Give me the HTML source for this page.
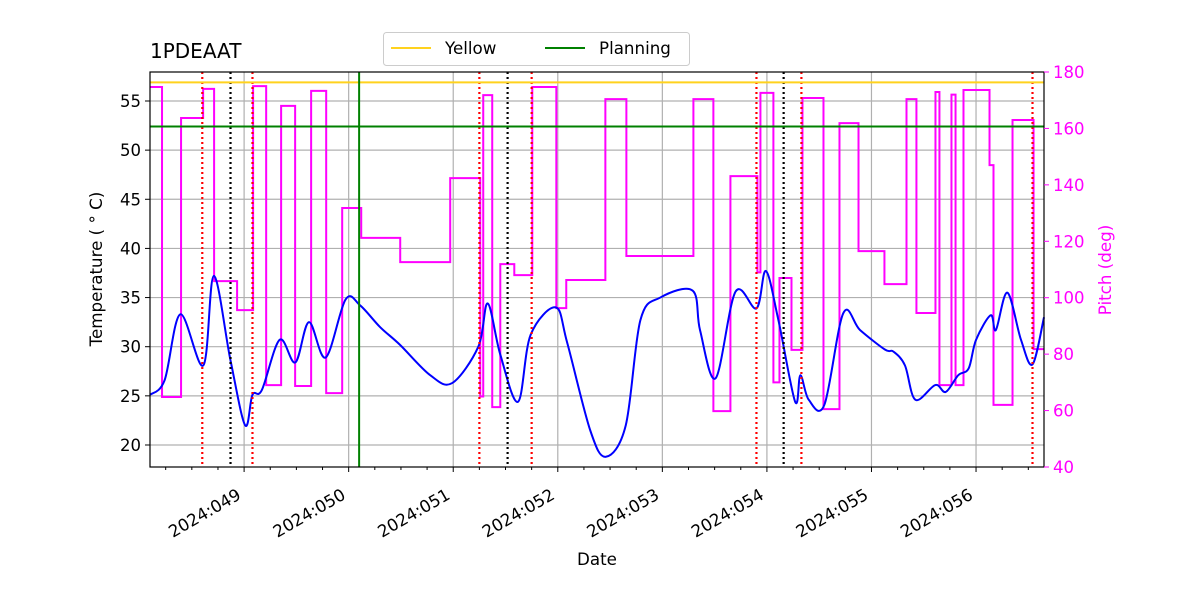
<!DOCTYPE html>
<html><head><meta charset="utf-8"><style>
body{margin:0;background:#fff;font-family:"DejaVu Sans","Liberation Sans",sans-serif}
svg text{font-family:"DejaVu Sans","Liberation Sans",sans-serif}
</style></head><body>
<svg id="c" width="1200" height="600" viewBox="0 0 1200 600" style="position:absolute;left:0;top:0"></svg>
<script>
const dayTicks=[49,50,51,52,53,54,55,56];
const tempTicks=[20,25,30,35,40,45,50,55];
const pitchTicks=[40,60,80,100,120,140,160,180];
const tempDays=[48.10,48.24,48.39,48.61,48.71,48.87,49.01,49.08,49.17,49.34,49.49,49.62,49.78,49.97,50.11,50.30,50.49,50.78,50.99,51.24,51.33,51.45,51.62,51.74,51.98,52.09,52.31,52.46,52.65,52.79,52.98,53.29,53.36,53.51,53.70,53.90,53.99,54.11,54.27,54.32,54.40,54.55,54.73,54.89,55.13,55.21,55.32,55.42,55.61,55.71,55.83,55.93,56.00,56.14,56.19,56.30,56.43,56.54,56.65];
const tempVals=[25.1,26.6,33.3,28.1,37.2,28.6,22.0,25.1,25.6,30.7,28.4,32.5,28.9,34.8,34.2,32.0,30.2,27.1,26.3,30.0,34.4,29.2,24.4,31.2,34.0,30.4,21.5,18.8,22.0,32.7,35.0,35.7,31.7,26.8,35.6,33.9,37.7,32.7,24.4,27.1,24.6,24.1,33.4,31.7,29.7,29.5,28.1,24.6,26.1,25.4,27.1,27.8,30.7,33.2,31.7,35.5,30.7,28.2,33.0];
const pitchDays=[48.10,48.215,48.397,48.608,48.713,48.933,49.086,49.211,49.354,49.488,49.641,49.785,49.938,50.12,50.493,50.971,51.258,51.287,51.373,51.45,51.584,51.756,51.986,52.081,52.455,52.656,53.297,53.488,53.651,53.909,53.938,54.062,54.12,54.235,54.34,54.541,54.694,54.876,55.124,55.335,55.43,55.612,55.65,55.765,55.804,55.88,56.129,56.167,56.349,56.55];
const pitchVals=[174.7,64.8,163.7,174,105.9,95.6,175,69,168,68.7,173.3,66.2,131.8,121.2,112.6,142.4,65,171.8,61.2,111.9,108,174.7,96.3,106.3,170.4,114.8,170.4,59.8,143.1,109,172.6,70,107,81.5,170.8,60.5,161.9,116.5,104.8,170.4,94.6,172.9,69,172,69,173.6,147,62,163,81.8];
const yellowLimit=56.9, planningLimit=52.4, planningDay=50.1;
const redDays=[48.60,49.08,51.25,51.75,53.90,54.33,56.54];
const blackDays=[48.87,51.52,54.16];
const X0=150,X1=1044,Y0=72,Y1=467,DMIN=48.10,DMAX=56.65,TMIN=17.76,TMAX=57.95,PMIN=40,PMAX=180;
const xs=d=>X0+(d-DMIN)/(DMAX-DMIN)*(X1-X0);
const yt=t=>Y1-(t-TMIN)/(TMAX-TMIN)*(Y1-Y0);
const yp=p=>Y1-(p-PMIN)/(PMAX-PMIN)*(Y1-Y0);
const svg=document.getElementById('c');const NS='http://www.w3.org/2000/svg';
function el(t,a,txt){const e=document.createElementNS(NS,t);for(const k in a)e.setAttribute(k,a[k]);if(txt!==undefined)e.textContent=txt;svg.appendChild(e);return e;}
tempTicks.forEach(t=>{const e=el('line',{x1:X0,x2:X1,y1:yt(t),y2:yt(t),stroke:'#b0b0b0','stroke-width':1.2});

});
dayTicks.forEach(d=>{const e=el('line',{x1:xs(d),x2:xs(d),y1:Y0,y2:Y1,stroke:'#b0b0b0','stroke-width':1.2});

});
let pd='';pitchDays.forEach((d,i)=>{const x=xs(d),y=yp(pitchVals[i]);pd+=(i?`L${x},${yp(pitchVals[i-1])}L${x},${y}`:`M${x},${y}`);});
pd+=`L${X1},${yp(pitchVals[pitchVals.length-1])}`;
const pl=el('path',{d:pd,fill:'none',stroke:'#ff00ff','stroke-width':2});


const P=tempDays.map((d,i)=>[xs(d),yt(tempVals[i])]);
let td=`M${P[0][0]},${P[0][1]}`;
for(let i=0;i<P.length-1;i++){const p0=P[Math.max(i-1,0)],p1=P[i],p2=P[i+1],p3=P[Math.min(i+2,P.length-1)];
const c1=[p1[0]+(p2[0]-p0[0])/6,p1[1]+(p2[1]-p0[1])/6],c2=[p2[0]-(p3[0]-p1[0])/6,p2[1]-(p3[1]-p1[1])/6];
td+=`C${c1[0]},${c1[1]} ${c2[0]},${c2[1]} ${p2[0]},${p2[1]}`;}
const tl=el('path',{d:td,fill:'none',stroke:'#0000ff','stroke-width':2,'stroke-linejoin':'round'});


redDays.forEach(d=>{const e=el('line',{x1:xs(d),x2:xs(d),y1:Y0,y2:Y1,stroke:'#ff0000','stroke-width':2.2,'stroke-dasharray':'2,3'});

});
blackDays.forEach(d=>{const e=el('line',{x1:xs(d),x2:xs(d),y1:Y0,y2:Y1,stroke:'#000','stroke-width':2.2,'stroke-dasharray':'2,3'});

});
const yl=el('line',{x1:X0,x2:X1,y1:yt(yellowLimit),y2:yt(yellowLimit),stroke:'#ffd21e','stroke-width':2});


const gl=el('line',{x1:X0,x2:X1,y1:yt(planningLimit),y2:yt(planningLimit),stroke:'#008000','stroke-width':2});


const gv=el('line',{x1:xs(planningDay),x2:xs(planningDay),y1:Y0,y2:Y1,stroke:'#008000','stroke-width':2});


const fr=el('rect',{x:X0,y:Y0,width:X1-X0,height:Y1-Y0,fill:'none',stroke:'#000','stroke-width':1.2});


tempTicks.forEach(t=>{el('line',{x1:X0-5,x2:X0,y1:yt(t),y2:yt(t),stroke:'#000'});
const e=el('text',{x:X0-9,y:yt(t)+6,'text-anchor':'end','font-size':16.5},String(t));

});
pitchTicks.forEach(p=>{el('line',{x1:X1,x2:X1+5,y1:yp(p),y2:yp(p),stroke:'#ff00ff'});
const e=el('text',{x:X1+9,y:yp(p)+6,'font-size':16.5,fill:'#ff00ff'},String(p));

});
for(let d=48.25;d<DMAX;d+=0.25){if(d<DMIN)continue;const maj=Math.abs(d-Math.round(d))<1e-6;el('line',{x1:xs(d),x2:xs(d),y1:Y1,y2:Y1+(maj?5:3),stroke:'#000'});}
dayTicks.forEach(d=>{const x=xs(d)-2,y=Y1+31;const e=el('text',{x:x,y:y,'text-anchor':'end','font-size':16.7,transform:`rotate(-30 ${x} ${y})`},'2024:0'+d);

});
</script>
<svg width="1200" height="600" style="position:absolute;left:0;top:0">
<text x="150" y="58" font-size="20">1PDEAAT</text>
<text x="597" y="565" font-size="16.7" text-anchor="middle">Date</text>
<text x="102" y="269" font-size="16.7" text-anchor="middle" transform="rotate(-90 102 269)">Temperature ( ° C)</text>
<text x="1111" y="270" font-size="16.7" fill="#ff00ff" text-anchor="middle" transform="rotate(-90 1111 270)">Pitch (deg)</text>
<g>
<rect x="383.5" y="32.5" width="306" height="33" rx="3" fill="#fff" stroke="#ccc"/>
<line x1="391" x2="431" y1="48" y2="48" stroke="#ffd21e" stroke-width="2"/>
<text x="445" y="54" font-size="16.7">Yellow</text>
<line x1="545" x2="585" y1="48" y2="48" stroke="#008000" stroke-width="2"/>
<text x="599" y="54" font-size="16.7">Planning</text>
</g>
</svg>
</body></html>
